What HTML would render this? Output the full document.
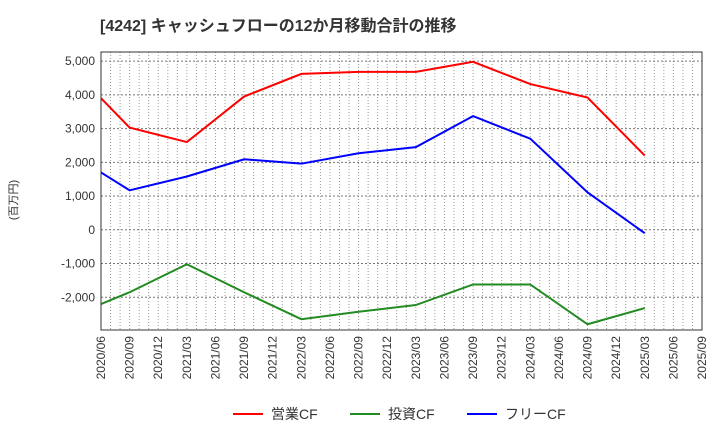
<!DOCTYPE html>
<html><head><meta charset="utf-8"><style>
body{margin:0;background:#fff;font-family:"Liberation Sans","Noto Sans CJK JP",sans-serif;}
</style></head><body>
<svg width="720" height="440" xmlns="http://www.w3.org/2000/svg">
<text x="100" y="31" font-size="16" font-weight="bold" fill="#333" font-family="Liberation Sans, Noto Sans CJK JP, sans-serif">[4242]  キャッシュフローの12か月移動合計の推移</text>
<text transform="translate(17,200) rotate(-90)" font-size="11" fill="#333" text-anchor="middle" font-family="Liberation Sans, Noto Sans CJK JP, sans-serif">(百万円)</text>
<g id="grid"></g><g id="axes"></g><g id="series"></g>
<rect x="101" y="52" width="601" height="278" fill="none" stroke="#333"/>
<g id="legend"></g>
</svg>
<script>
const xLabels=["2020/06","2020/09","2020/12","2021/03","2021/06","2021/09","2021/12","2022/03","2022/06","2022/09","2022/12","2023/03","2023/06","2023/09","2023/12","2024/03","2024/06","2024/09","2024/12","2025/03","2025/06","2025/09"];
const pointIdx=[0,1,3,5,7,9,11,13,15,17,19];
const operating=[3900,3030,2600,3950,4620,4680,4680,4980,4320,3920,2200];
const investing=[-2200,-1850,-1020,-1850,-2650,-2430,-2230,-1620,-1620,-2800,-2320];
const free=[1700,1170,1580,2090,1960,2270,2450,3370,2700,1110,-100];
const yTicks=[-2000,-1000,0,1000,2000,3000,4000,5000];
const seriesNames=["営業CF","投資CF","フリーCF"];
const colors=["#ff0000","#228B22","#0000ff"];
const NS="http://www.w3.org/2000/svg";
const L=101,R=702,T=52,B=330,yMin=-2970,yMax=5270;
const x=i=>L+(R-L)*i/(xLabels.length-1);
const y=v=>B-(v-yMin)/(yMax-yMin)*(B-T);
function mk(tag,attrs,parent){const e=document.createElementNS(NS,tag);for(const k in attrs)e.setAttribute(k,attrs[k]);document.getElementById(parent).appendChild(e);return e;}
for(let m=0;m<=(xLabels.length-1)*3;m++){const xx=L+(R-L)*m/((xLabels.length-1)*3);
const g=mk('line',{x1:xx,x2:xx,y1:T,y2:B,stroke:'#999','stroke-dasharray':'1,2','stroke-width':1},'grid');

}
yTicks.forEach(v=>{const g=mk('line',{x1:L,x2:R,y1:y(v),y2:y(v),stroke:'#777','stroke-dasharray':'2,2'},'grid');


const t=mk('text',{x:L-6,y:y(v)+4,'font-size':12,'text-anchor':'end',fill:'#333'},'axes');t.textContent=v.toLocaleString('en-US');

});
xLabels.forEach((s,i)=>{const t=mk('text',{transform:`translate(${x(i)+4},${B+6}) rotate(-90)`,'font-size':12,'text-anchor':'end',fill:'#333'},'axes');t.textContent=s;

});
[operating,investing,free].forEach((d,k)=>{const p=mk('polyline',{points:d.map((v,j)=>x(pointIdx[j])+','+y(v)).join(' '),fill:'none',stroke:colors[k],'stroke-width':2},'series');

});
const lx=[233,350,467];
seriesNames.forEach((n,k)=>{const l=mk('line',{x1:lx[k],x2:lx[k]+30,y1:414,y2:414,stroke:colors[k],'stroke-width':2},'legend');


const t=mk('text',{x:lx[k]+38,y:419,'font-size':14,fill:'#333'},'legend');t.textContent=n;

});
</script>
</body></html>
